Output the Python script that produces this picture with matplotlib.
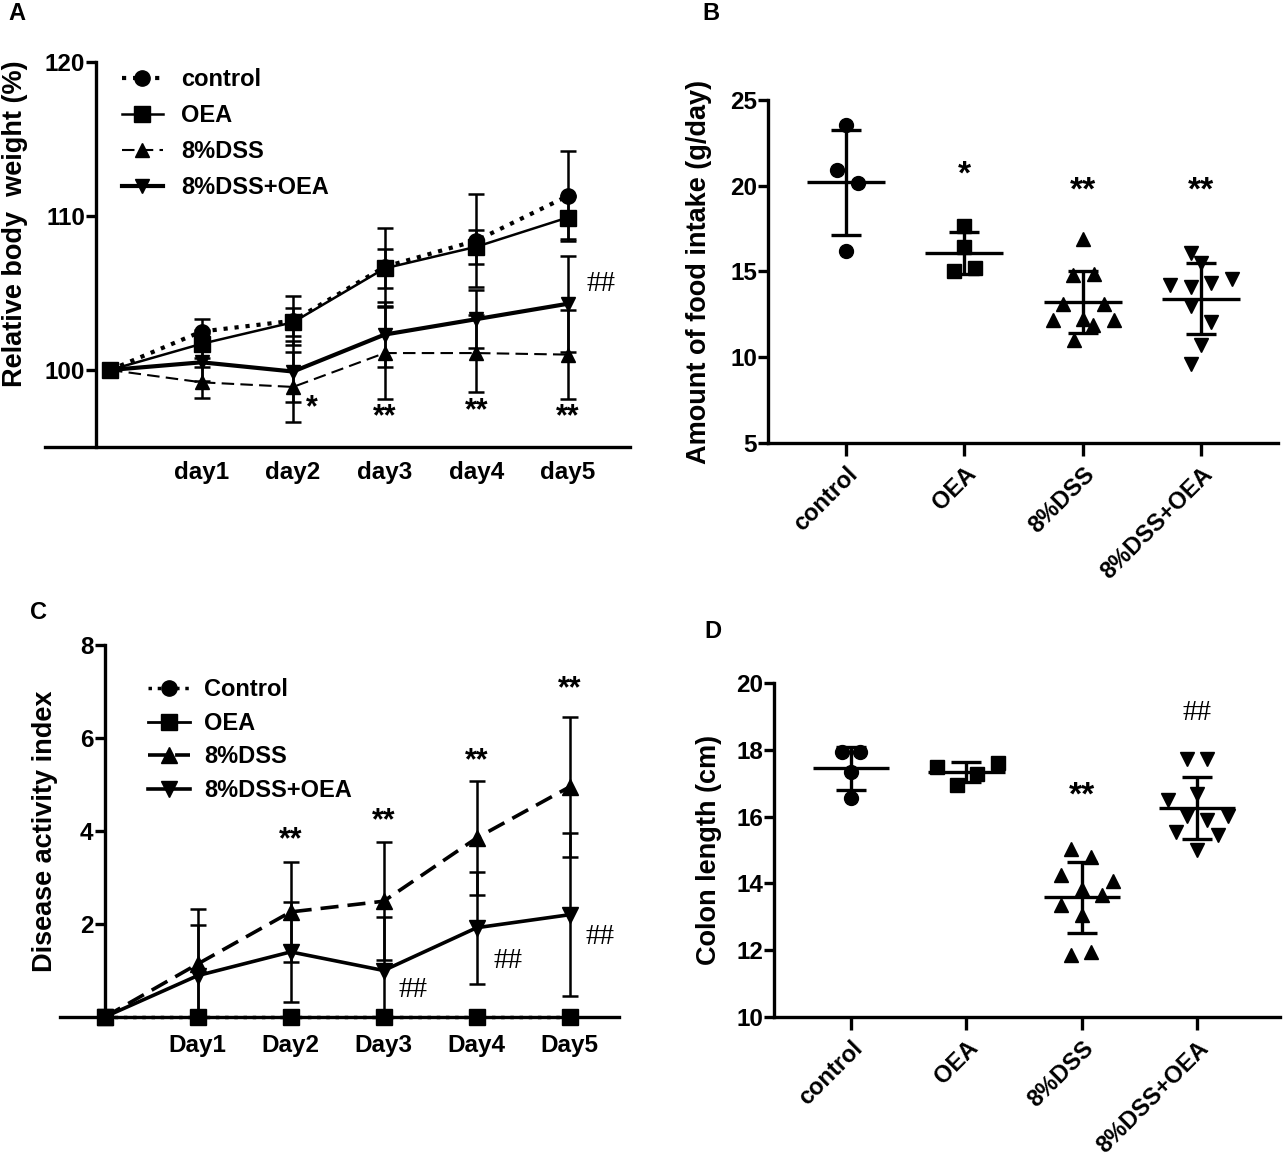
import numpy as np
import matplotlib
matplotlib.use("Agg")
import matplotlib.pyplot as plt
from matplotlib import font_manager

# ---- data ----
days = [0, 1, 2, 3, 4, 5]
day_labels = ["", "day1", "day2", "day3", "day4", "day5"]
Day_labels = ["", "Day1", "Day2", "Day3", "Day4", "Day5"]

# A: relative body weight (%)
bw_control = [100, 102.5, 103.2, 106.7, 108.4, 111.3]
bw_control_sd = [0, 0.8, 1.6, 2.55, 3.0, 2.9]
bw_oea = [100, 101.7, 103.1, 106.6, 108.0, 109.9]
bw_oea_sd = [0, 0.9, 0.9, 1.25, 1.1, 1.4]
bw_dss = [100, 99.2, 98.9, 101.1, 101.1, 101.0]
bw_dss_sd = [0, 1.0, 2.3, 3.0, 2.5, 2.9]
bw_dssoea = [100, 100.5, 99.9, 102.3, 103.3, 104.3]
bw_dssoea_sd = [0, 1.2, 2.0, 2.1, 1.9, 3.1]

# C: disease activity index
dai_control = [0, 0, 0, 0, 0, 0]
dai_oea = [0, 0, 0, 0, 0, 0]
dai_dss = [0, 1.14, 2.26, 2.49, 3.85, 4.95]
dai_dss_sd = [0, 1.19, 1.08, 1.27, 1.22, 1.5]
dai_dssoea = [0, 0.89, 1.40, 1.0, 1.92, 2.2]
dai_dssoea_sd = [0, 1.09, 1.07, 1.15, 1.2, 1.75]

groups = ["control", "OEA", "8%DSS", "8%DSS+OEA"]

# B: food intake (g/day), points with small x jitter
food_control = [23.56, 20.94, 20.15, 16.17]
food_control_dx = [0, -0.08, 0.1, 0]
food_oea = [17.64, 16.42, 15.02, 15.21]
food_oea_dx = [0, 0, -0.09, 0.09]
food_dss = [16.9, 14.77, 14.86, 13.12, 13.12, 12.15, 12.24, 11.9, 12.15, 10.98]
food_dss_dx = [0, -0.086, 0.093, -0.17, 0.18, -0.25, 0, 0.086, 0.26, -0.076]
food_dssoea = [16.07, 15.49, 14.24, 14.09, 14.32, 14.57, 12.96, 12.05, 10.69, 9.62]
food_dssoea_dx = [-0.086, 0, -0.26, -0.086, 0.086, 0.26, -0.086, 0.086, 0, -0.086]

# D: colon length (cm)
colon_control = [17.93, 17.93, 17.34, 16.57]
colon_control_dx = [-0.08, 0.08, 0, 0]
colon_oea = [17.49, 17.6, 17.29, 16.94]
colon_oea_dx = [-0.26, 0.27, 0.09, -0.08]
colon_dss = [15.04, 14.79, 14.24, 14.07, 13.84, 13.64, 13.34, 13.04, 11.85, 11.95]
colon_dss_dx = [-0.09, 0.08, -0.18, 0.27, 0, 0.18, -0.18, 0, -0.09, 0.08]
colon_dssoea = [17.73, 17.73, 16.67, 16.51, 16.02, 16.02, 15.89, 15.54, 15.44, 15.01]
colon_dssoea_dx = [-0.09, 0.09, 0, -0.25, 0.27, -0.09, 0.09, -0.18, 0.18, 0]

# ---- fonts ----
names = {f.name for f in font_manager.fontManager.ttflist}
narrow = "Liberation Sans Narrow" if "Liberation Sans Narrow" in names else "Liberation Sans"
plt.rcParams["font.family"] = ["Liberation Sans", "DejaVu Sans"]
plt.rcParams["font.weight"] = "bold"
plt.rcParams["axes.labelweight"] = "bold"

LW = 2.4
LABEL_FS = 19.5
fig = plt.figure(figsize=(12.83, 11.6), dpi=100)


def style_axes(ax):
    for s in ["top", "right"]:
        ax.spines[s].set_visible(False)
    for s in ["left", "bottom"]:
        ax.spines[s].set_linewidth(LW)
    ax.tick_params(axis="y", direction="out", length=7, width=LW, labelsize=17.5, pad=1)
    for lab in ax.get_yticklabels():
        lab.set_family(narrow)
        lab.set_fontweight("bold")


def star(ax, x, y, s, size=22):
    ax.text(x, y, s, ha="center", va="center", fontsize=size, fontweight="bold")


def hashes(ax, x, y):
    ax.text(x, y, "##", ha="center", va="center", fontsize=21,
            family="Liberation Serif", fontweight="normal")


# ================= A =================
axA = fig.add_axes([45 / 1283, 1 - 447 / 1160, 585 / 1283, 385 / 1160])
axA.set_xlim(-0.71, 5.68)
axA.set_ylim(95, 120)
axA.spines["left"].set_position(("data", -0.15))
axA.spines["left"].set_bounds(95, 120)
eb = dict(capsize=6, elinewidth=1.8, capthick=1.8, color="black", zorder=3)
axA.errorbar(days, bw_control, yerr=bw_control_sd, fmt="none", **eb)
axA.errorbar(days, bw_oea, yerr=bw_oea_sd, fmt="none", **eb)
axA.errorbar(days, bw_dss, yerr=bw_dss_sd, fmt="none", **eb)
axA.errorbar(days, bw_dssoea, yerr=bw_dssoea_sd, fmt="none", **eb)
axA.plot(days, bw_control, ":", color="black", lw=3, marker="o", ms=11, label="control", zorder=4)
axA.plot(days, bw_oea, "-", color="black", lw=1.8, marker="s", ms=11, label="OEA", zorder=4)
axA.plot(days, bw_dss, "--", color="black", lw=1.5, marker="^", ms=10, dashes=(6, 3),
         label="8%DSS", zorder=4)
axA.plot(days, bw_dssoea, "-", color="black", lw=3, marker="v", ms=10, label="8%DSS+OEA", zorder=4)
axA.set_yticks([100, 110, 120])
axA.set_xticks(days)
axA.set_xticklabels(day_labels, fontsize=17.5, family=narrow, fontweight="bold")
axA.tick_params(axis="x", length=0, pad=10)
style_axes(axA)
axA.set_ylabel("Relative body  weight (%)", fontsize=LABEL_FS)
axA.yaxis.set_label_coords(-0.029, 0.58)
axA.legend(loc="upper left", bbox_to_anchor=(0.096, 1.04), frameon=False,
           prop={"size": 17, "weight": "bold"}, handlelength=1.7,
           handletextpad=0.8, labelspacing=0.55)
star(axA, 2.2, 97.5, "*")
star(axA, 3.0, 96.9, "**")
star(axA, 4.0, 97.3, "**")
star(axA, 5.0, 96.9, "**")
hashes(axA, 5.36, 105.6)


# ============== scatter panels ==============
def scatter_panel(ax, data, dxs, markers):
    for i, (vals, dx, m) in enumerate(zip(data, dxs, markers)):
        vals = np.array(vals)
        x = i + np.array(dx)
        ax.plot(x, vals, m, color="black", ms=10, ls="none", zorder=4, clip_on=False)
        mean = vals.mean()
        sd = vals.std(ddof=1)
        ax.hlines(mean, i - 0.33, i + 0.33, color="black", lw=2.4, zorder=3)
        ax.errorbar([i], [mean], yerr=[sd], fmt="none", color="black", elinewidth=2.4,
                    capsize=11, capthick=2.4, zorder=3)
    ax.set_xticks(range(len(groups)))
    ax.set_xticklabels(groups, rotation=45, ha="right", rotation_mode="anchor",
                       fontsize=17, fontweight="bold")
    ax.tick_params(axis="x", direction="out", length=9, width=LW, pad=5)


markers = ["o", "s", "^", "v"]

# ================= B =================
axB = fig.add_axes([768 / 1283, 1 - 443 / 1160, 510 / 1283, 343 / 1160])
axB.set_xlim(-0.66, 3.65)
axB.set_ylim(5, 25)
scatter_panel(axB, [food_control, food_oea, food_dss, food_dssoea],
              [food_control_dx, food_oea_dx, food_dss_dx, food_dssoea_dx], markers)
axB.set_yticks([5, 10, 15, 20, 25])
style_axes(axB)
axB.set_ylabel("Amount of food intake (g/day)", fontsize=LABEL_FS)
axB.yaxis.set_label_coords(-0.11, 0.5)
star(axB, 1, 20.6, "*", 24)
star(axB, 2, 19.7, "**", 24)
star(axB, 3, 19.7, "**", 24)

# ================= C =================
axC = fig.add_axes([60 / 1283, 1 - 1017 / 1160, 559 / 1283, 372 / 1160])
axC.set_xlim(-0.48, 5.53)
axC.set_ylim(0, 8)
axC.spines["left"].set_position(("data", 0))
axC.errorbar(days, dai_dss, yerr=dai_dss_sd, fmt="none", **eb)
axC.errorbar(days, dai_dssoea, yerr=dai_dssoea_sd, fmt="none", **eb)
axC.plot(days, dai_control, ":", color="black", lw=2.5, marker="o", ms=11, label="Control",
         zorder=4, clip_on=False)
axC.plot(days, dai_oea, "-", color="black", lw=2.0, marker="s", ms=11, label="OEA",
         zorder=5, clip_on=False)
axC.plot(days, dai_dss, "--", color="black", lw=2.6, marker="^", ms=11, dashes=(5, 2.5),
         label="8%DSS", zorder=4, clip_on=False)
axC.plot(days, dai_dssoea, "-", color="black", lw=2.6, marker="v", ms=11, label="8%DSS+OEA",
         zorder=4, clip_on=False)
axC.set_yticks([2, 4, 6, 8])
axC.set_xticks(days)
axC.set_xticklabels(Day_labels, fontsize=17.5, family=narrow, fontweight="bold")
axC.tick_params(axis="x", length=0, pad=12)
style_axes(axC)
axC.set_ylabel("Disease activity index", fontsize=LABEL_FS)
axC.yaxis.set_label_coords(-0.004, 0.5)
axC.legend(loc="upper left", bbox_to_anchor=(0.119, 0.968), frameon=False,
           prop={"size": 17, "weight": "bold"}, handlelength=1.8,
           handletextpad=0.6, labelspacing=0.45)
star(axC, 2, 3.8, "**")
star(axC, 3, 4.2, "**")
star(axC, 4, 5.5, "**")
star(axC, 5, 7.05, "**")
hashes(axC, 3.32, 0.57)
hashes(axC, 4.34, 1.21)
hashes(axC, 5.33, 1.71)

# ================= D =================
axD = fig.add_axes([774 / 1283, 1 - 1017 / 1160, 506 / 1283, 334 / 1160])
axD.set_xlim(-0.67, 3.72)
axD.set_ylim(10, 20)
scatter_panel(axD, [colon_control, colon_oea, colon_dss, colon_dssoea],
              [colon_control_dx, colon_oea_dx, colon_dss_dx, colon_dssoea_dx], markers)
axD.set_yticks([10, 12, 14, 16, 18, 20])
style_axes(axD)
axD.set_ylabel("Colon length (cm)", fontsize=LABEL_FS)
axD.yaxis.set_label_coords(-0.103, 0.5)
star(axD, 2, 16.6, "**", 24)
hashes(axD, 3, 19.1)

# panel letters
for lab, x, y in [("A", 8, 14), ("B", 702, 14), ("C", 30, 612), ("D", 704, 632)]:
    fig.text(x / 1283, 1 - y / 1160, lab, fontsize=17, fontweight="bold", va="center")

fig.savefig("out.png", dpi=100)
